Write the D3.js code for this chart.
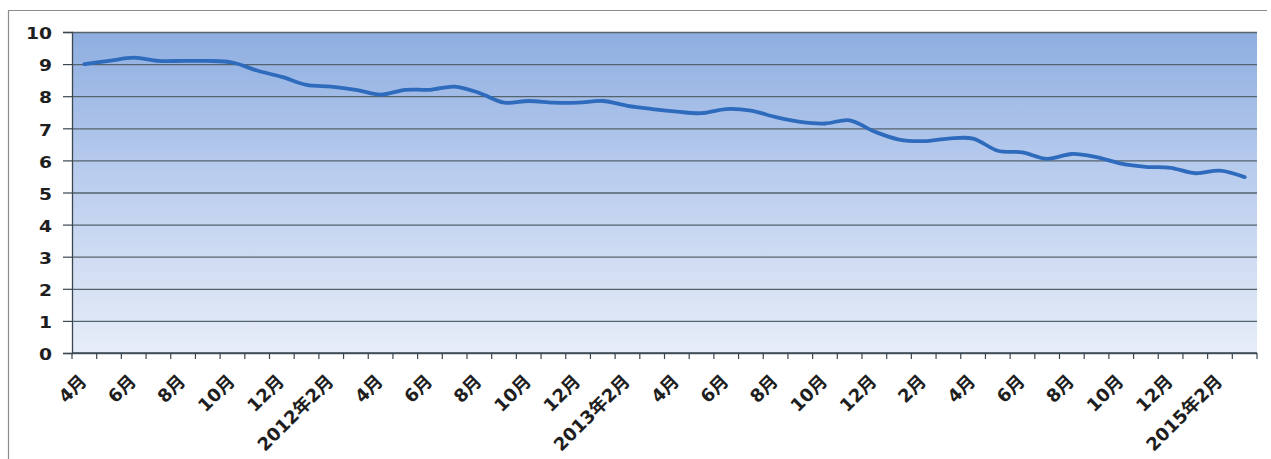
<!DOCTYPE html>
<html>
<head>
<meta charset="utf-8">
<script src="https://cdn.jsdelivr.net/npm/d3@7"></script>
<style>
  html, body { margin: 0; padding: 0; background: #ffffff; }
  svg { display: block; }
  .lbl { font-family: "DejaVu Sans", "Noto Sans CJK JP", sans-serif; font-weight: bold; fill: #1e1e1e; }
</style>
</head>
<body>
<svg id="chart" width="1271" height="459"></svg>
<script>
// Monthly series, April 2011 through March 2015
const categories = [
  "2011-04","2011-05","2011-06","2011-07","2011-08","2011-09","2011-10","2011-11","2011-12",
  "2012-01","2012-02","2012-03","2012-04","2012-05","2012-06","2012-07","2012-08","2012-09","2012-10","2012-11","2012-12",
  "2013-01","2013-02","2013-03","2013-04","2013-05","2013-06","2013-07","2013-08","2013-09","2013-10","2013-11","2013-12",
  "2014-01","2014-02","2014-03","2014-04","2014-05","2014-06","2014-07","2014-08","2014-09","2014-10","2014-11","2014-12",
  "2015-01","2015-02","2015-03"
];
const values = [
  9.0, 9.1, 9.2, 9.1, 9.1, 9.1, 9.05, 8.8, 8.6,
  8.35, 8.3, 8.2, 8.05, 8.2, 8.2, 8.3, 8.1, 7.8, 7.85, 7.8, 7.8,
  7.85, 7.7, 7.6, 7.52, 7.47, 7.6, 7.55, 7.35, 7.2, 7.15, 7.25, 6.9,
  6.65, 6.6, 6.68, 6.68, 6.3, 6.25, 6.05, 6.2, 6.1, 5.9, 5.8, 5.77,
  5.6, 5.68, 5.48
];
// Every second month carries a label
const tickLabels = [
  "4月","6月","8月","10月","12月","2012年2月",
  "4月","6月","8月","10月","12月","2013年2月",
  "4月","6月","8月","10月","12月","2月",
  "4月","6月","8月","10月","12月","2015年2月"
];
const yTicks = [0,1,2,3,4,5,6,7,8,9,10];

const svg = d3.select("#chart");
const plotL = 72, plotR = 1257, plotT = 32, plotB = 353;

// outer chart frame (top and left edges visible)
svg.append("line").attr("x1", 8).attr("x2", 1267).attr("y1", 10.5).attr("y2", 10.5)
  .attr("stroke", "#8c8c8c").attr("stroke-width", 1.2);
svg.append("line").attr("x1", 8.5).attr("x2", 8.5).attr("y1", 10).attr("y2", 459)
  .attr("stroke", "#8c8c8c").attr("stroke-width", 1.2);

const x = d3.scaleBand().domain(categories).range([plotL, plotR]).padding(0);
const y = d3.scaleLinear().domain([0, 10]).range([plotB, plotT]);

// plot background gradient
const defs = svg.append("defs");
const grad = defs.append("linearGradient").attr("id", "bg")
  .attr("x1", 0).attr("y1", 0).attr("x2", 0).attr("y2", 1);
grad.append("stop").attr("offset", "0%").attr("stop-color", "#8eaee0");
grad.append("stop").attr("offset", "45%").attr("stop-color", "#bacdee");
grad.append("stop").attr("offset", "100%").attr("stop-color", "#e7edf8");
svg.append("rect").attr("x", plotL).attr("y", plotT)
  .attr("width", plotR - plotL).attr("height", plotB - plotT)
  .attr("fill", "url(#bg)");

// horizontal gridlines
svg.append("g")
  .attr("transform", `translate(${plotL},0)`)
  .call(d3.axisLeft(y).tickValues(yTicks).tickSize(-(plotR - plotL)).tickFormat(""))
  .call(g => g.select(".domain").remove())
  .call(g => g.selectAll("line").attr("stroke", "#55636c").attr("stroke-width", 1.3));

// y axis with outward ticks; digits drawn slightly wide
svg.append("g")
  .attr("transform", `translate(${plotL},0)`)
  .call(d3.axisLeft(y).tickValues(yTicks).tickSize(9).tickPadding(8).tickFormat(d3.format("d")))
  .call(g => g.select(".domain").attr("stroke", "#3a4650").attr("stroke-width", 1.3))
  .call(g => g.selectAll("line").attr("stroke", "#3a4650").attr("stroke-width", 1.2))
  .call(g => g.selectAll("text").attr("class", "lbl").style("font-size", "16px")
    .attr("dy", "0.42em").attr("transform", "scale(1.17,1)"));

// x axis baseline and boundary ticks
const xAxis = svg.append("g").attr("transform", `translate(0,${plotB})`);
xAxis.append("line").attr("x1", plotL).attr("x2", plotR).attr("y1", 0).attr("y2", 0)
  .attr("stroke", "#3a4650").attr("stroke-width", 1.3);
const bounds = categories.map(c => x(c)).concat([x(categories[categories.length - 1]) + x.bandwidth()]);
xAxis.selectAll("line.tk").data(bounds).join("line").attr("class", "tk")
  .attr("x1", d => d).attr("x2", d => d).attr("y1", 0).attr("y2", 6)
  .attr("stroke", "#3a4650").attr("stroke-width", 1.2);

// rotated month labels
const labelCats = categories.filter((c, i) => i % 2 === 0);
const labelOf = new Map(labelCats.map((c, i) => [c, tickLabels[i]]));
svg.append("g")
  .attr("transform", `translate(0,${plotB})`)
  .call(d3.axisBottom(x).tickValues(labelCats).tickSize(0).tickFormat(d => labelOf.get(d)))
  .call(g => g.select(".domain").remove())
  .call(g => g.selectAll("text")
    .attr("class", "lbl")
    .style("font-size", "18px")
    .attr("text-anchor", "end")
    .attr("y", 0).attr("dy", "0.35em")
    .attr("transform", "translate(-1,25) rotate(-45)"));

// smoothed series line
const line = d3.line()
  .x((d, i) => x(categories[i]) + x.bandwidth() / 2)
  .y(d => y(d))
  .curve(d3.curveCatmullRom.alpha(0.5));
svg.append("path").datum(values)
  .attr("fill", "none")
  .attr("stroke", "#2e6bbd")
  .attr("stroke-width", 3.8)
  .attr("stroke-linejoin", "round")
  .attr("stroke-linecap", "round")
  .attr("d", line);
</script>
</body>
</html>
